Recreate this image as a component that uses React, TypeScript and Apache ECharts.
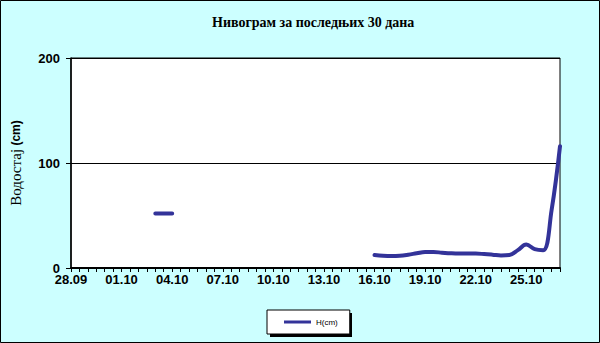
import React, { useEffect, useRef } from "react";
import * as echarts from "echarts";

const TITLE = "Нивограм за последњих 30 дана";
const Y_NAME_WORD = "Водостај";
const Y_NAME_UNIT = "(cm)";
const SERIES_NAME = "H(cm)";

const days = [
  "28.09", "29.09", "30.09", "01.10", "02.10", "03.10", "04.10", "05.10",
  "06.10", "07.10", "08.10", "09.10", "10.10", "11.10", "12.10", "13.10",
  "14.10", "15.10", "16.10", "17.10", "18.10", "19.10", "20.10", "21.10",
  "22.10", "23.10", "24.10", "25.10", "26.10", "27.10",
];
const halves = ["00h", "12h"];

// water level (cm), one reading every 12 hours; null = no reading
const levels: (number | null)[] = [
  null, null, null, null, null, null, null, null, null, null,
  52, 52, 52,
  null, null, null, null, null, null, null, null, null, null, null, null,
  null, null, null, null, null, null, null, null, null, null, null,
  12.4, 11.7, 11.4, 11.7, 12.7, 14, 15.2, 15.2, 14.6, 14,
  13.7, 13.7, 13.7, 13.3, 12.7, 12, 12.4, 17, 22.3, 18,
  17, 55, 116,
];

const yTicks = [0, 100, 200];

const categories: string[] = days
  .flatMap((d) => halves.map((h) => `${d} ${h}`))
  .slice(0, levels.length);

export default function App() {
  const ref = useRef<HTMLDivElement>(null);
  useEffect(() => {
    if (!ref.current) return;
    const chart = echarts.init(ref.current, null, { renderer: "svg" });
    chart.setOption({
      animation: false,
      backgroundColor: "#ccffff",
      title: {
        text: TITLE,
        left: 212,
        top: 15,
        padding: 0,
        textStyle: {
          fontFamily: "Liberation Serif",
          fontWeight: "bold",
          fontSize: 14,
          color: "#000",
        },
      },
      grid: {
        left: 64,
        right: 40,
        top: 58,
        bottom: 75,
        show: true,
        backgroundColor: "#ffffff",
        borderColor: "#000",
        borderWidth: 1,
      },
      legend: {
        data: [SERIES_NAME],
        left: 267,
        top: 310,
        padding: [7, 12, 7, 17],
        backgroundColor: "#ffffff",
        borderColor: "#000",
        borderWidth: 1,
        icon: "rect",
        itemWidth: 27,
        itemHeight: 3,
        z: 10,
        textStyle: {
          fontFamily: "Liberation Sans",
          fontSize: 8,
          color: "#000",
          lineHeight: 10,
        },
      },
      graphic: [
        {
          type: "rect",
          z: 1,
          shape: { x: 270, y: 313, width: 82, height: 24 },
          style: { fill: "#000" },
        },
        {
          type: "rect",
          z: 100,
          shape: { x: 0.5, y: 0.5, width: 599, height: 342 },
          style: { fill: "none", stroke: "#000", lineWidth: 1 },
        },
      ],
      xAxis: {
        type: "category",
        data: categories,
        boundaryGap: false,
        axisLine: { lineStyle: { color: "#000", width: 2 } },
        axisTick: {
          show: true,
          interval: 0,
          length: 4,
          lineStyle: { color: "#000", width: 1 },
        },
        axisLabel: {
          interval: (i: number) => i % 6 === 0,
          formatter: (v: string) => v.split(" ")[0],
          margin: 5,
          fontFamily: "Liberation Sans",
          fontWeight: "bold",
          fontSize: 13,
          color: "#000",
        },
        splitLine: { show: false },
      },
      yAxis: {
        type: "value",
        min: yTicks[0],
        max: yTicks[yTicks.length - 1],
        interval: 100,
        name: `{a|${Y_NAME_WORD}} {b|${Y_NAME_UNIT}}`,
        nameLocation: "middle",
        nameGap: 48,
        nameRotate: 90,
        nameTextStyle: {
          rich: {
            a: { fontFamily: "Liberation Serif", fontSize: 15, color: "#000" },
            b: {
              fontFamily: "Liberation Sans",
              fontWeight: "bold",
              fontSize: 12,
              color: "#000",
            },
          },
        },
        axisLine: { show: true, lineStyle: { color: "#000", width: 1.5 } },
        axisTick: { show: true, length: 5, lineStyle: { color: "#000" } },
        axisLabel: {
          margin: 11,
          fontFamily: "Liberation Sans",
          fontWeight: "bold",
          fontSize: 13,
          color: "#000",
        },
        splitLine: { show: true, lineStyle: { color: "#000", width: 1 } },
      },
      series: [
        {
          name: SERIES_NAME,
          type: "line",
          data: levels,
          smooth: 0.4,
          connectNulls: false,
          symbol: "none",
          color: "#333399",
          lineStyle: { color: "#333399", width: 4, cap: "round" },
        },
      ],
    });
    return () => chart.dispose();
  }, []);
  return (
    <div
      ref={ref}
      style={{ position: "absolute", left: 0, top: 0, width: 600, height: 343 }}
    />
  );
}
